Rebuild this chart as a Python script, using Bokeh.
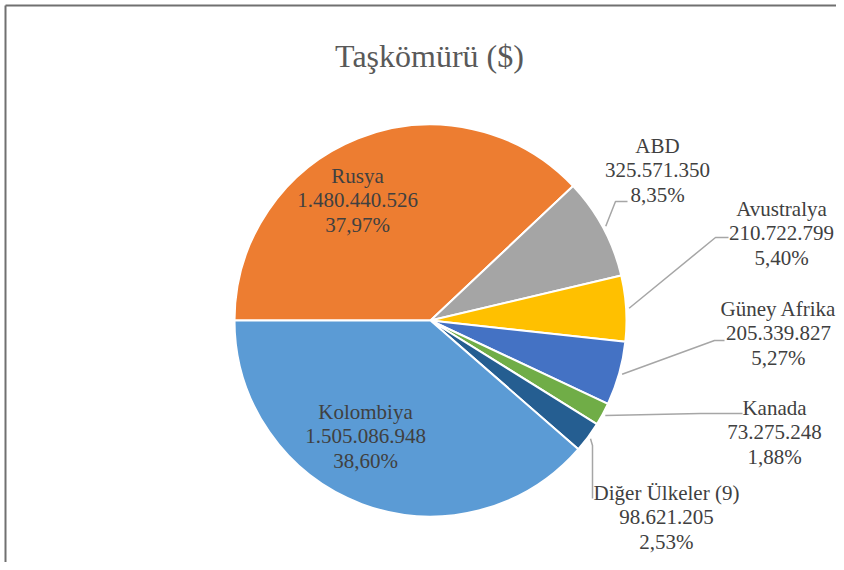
import numpy as np
from bokeh.plotting import figure
from bokeh.models import ColumnDataSource, Range1d
from bokeh.core.properties import value
from bokeh.embed import file_html
from bokeh.resources import INLINE

# ---------------- data ----------------
chart_title = "Taşkömürü ($)"
countries = ["Rusya", "ABD", "Avustralya", "Güney Afrika", "Kanada",
             "Diğer Ülkeler (9)", "Kolombiya"]
amounts = [1480440526, 325571350, 210722799, 205339827, 73275248,
           98621205, 1505086948]
colors = ["#ED7D31", "#A5A5A5", "#FFC000", "#4472C4", "#70AD47",
          "#255E91", "#5B9BD5"]

# ---------------- layout (pixels from top-left) ----------------
W, H = 836, 562
pie_center = (430, 320)
pie_radius = 196
label_pos = [(357, 200), (657, 170), (781, 233), (778, 333), (774, 432),
             (666, 517), (365, 436)]
leader_elbow = [None, (615, 201), (715, 237), (714, 340), (700, 413),
                (592, 445), None]
leader_end = [None, (627, 201), (728, 237), (724, 340), (742, 413),
              (592, 498), None]
FONT = "Liberation Serif"

# ---------------- computations ----------------
vals = np.array(amounts, dtype=float)
frac = vals / vals.sum()
cum = np.cumsum(frac)
a0 = np.pi  # first slice starts at 9 o'clock, going clockwise
start = a0 - 2 * np.pi * cum
end = a0 - 2 * np.pi * (cum - frac)
mid = a0 - 2 * np.pi * (cum - frac / 2)

def fmt_num(v):
    return f"{int(v):,}".replace(",", ".")

def fmt_pct(f):
    return f"{f * 100:.2f}".replace(".", ",") + "%"

labels = [f"{c}\n{fmt_num(v)}\n{fmt_pct(f)}" for c, v, f in zip(countries, amounts, frac)]

cx, cy = pie_center[0], -pie_center[1]

p = figure(width=W, height=H, output_backend="svg", toolbar_location=None,
           x_range=Range1d(0, W), y_range=Range1d(-H, 0),
           min_border=0, outline_line_color=None)
p.axis.visible = False
p.grid.visible = False
p.background_fill_color = "white"
p.border_fill_color = "white"

src = ColumnDataSource(dict(start=start, end=end, color=colors))
p.wedge(x=cx, y=cy, radius=pie_radius, start_angle="start", end_angle="end",
        fill_color="color", line_color="white", line_width=2, source=src)

# leader lines
for i in range(len(countries)):
    if leader_end[i] is None:
        continue
    sx = cx + (pie_radius + 3) * np.cos(mid[i])
    sy = cy + (pie_radius + 3) * np.sin(mid[i])
    ex, ey = leader_elbow[i]
    fx, fy = leader_end[i]
    p.line([sx, ex, fx], [sy, -ey, -fy], line_color="#A6A6A6", line_width=1.5)

# data labels
lx = [q[0] for q in label_pos]
ly = [-q[1] for q in label_pos]
p.text(x=lx, y=ly, text=labels, text_font=value(FONT), text_font_size="21px",
       text_color="#404040", text_align="center", text_baseline="middle",
       text_line_height=1.03)

# title
p.text(x=[429], y=[-55], text=[chart_title], text_font=value(FONT),
       text_font_size="32px", text_color="#595959", text_align="center",
       text_baseline="alphabetic")

# chart border (top and left edges visible in the reference)
border_off = 5
p.line([border_off, W], [-border_off, -border_off], line_color="#707070", line_width=2)
p.line([border_off, border_off], [-border_off, -H], line_color="#707070", line_width=2)

open("out.html", "w").write(file_html(p, INLINE))
